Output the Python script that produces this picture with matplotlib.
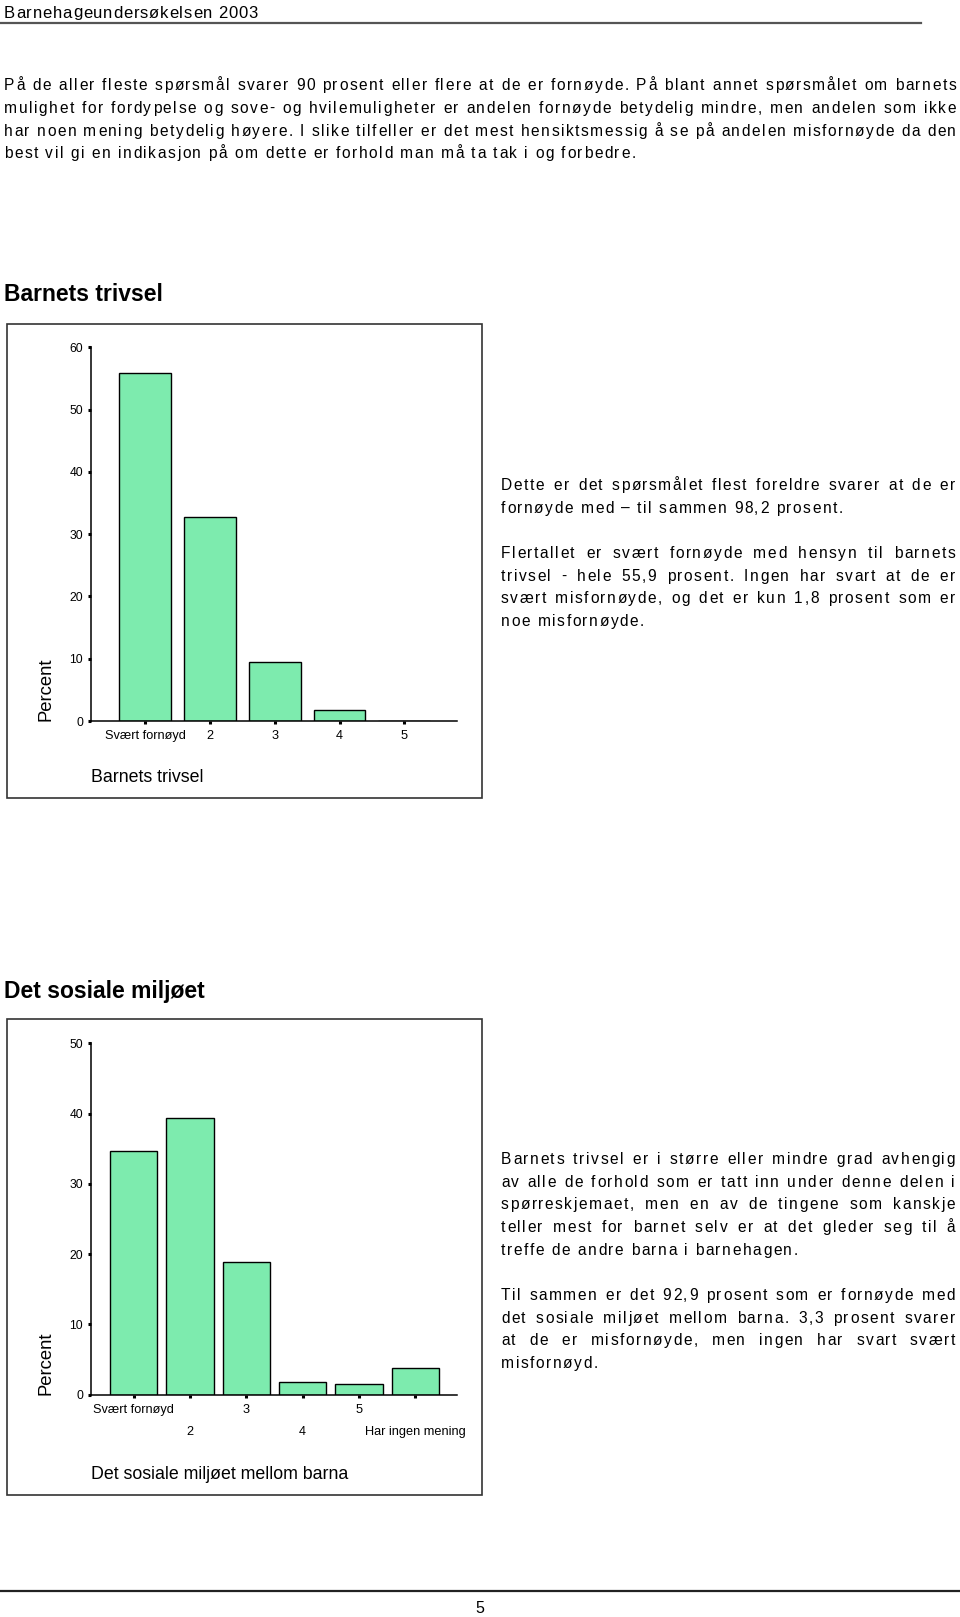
import matplotlib
matplotlib.use('Agg')
import matplotlib.pyplot as plt
from matplotlib.patches import Rectangle

plt.rcParams['font.family'] = ['Liberation Sans', 'DejaVu Sans']

W, H = 960, 1617

# data
trivsel_labels = ["Svært fornøyd", "2", "3", "4", "5"]
trivsel_pct = [55.9, 32.8, 9.5, 1.8, 0.0]
trivsel_yticks = [0, 10, 20, 30, 40, 50, 60]

sosial_labels = ["Svært fornøyd", "2", "3", "4", "5", "Har ingen mening"]
sosial_pct = [34.6, 39.4, 18.9, 1.8, 1.5, 3.8]
sosial_yticks = [0, 10, 20, 30, 40, 50]

header = "Barnehageundersøkelsen 2003"
intro = [
    "På de aller fleste spørsmål svarer 90 prosent eller flere at de er fornøyde. På blant annet spørsmålet om barnets",
    "mulighet for fordypelse og sove- og hvilemuligheter er andelen fornøyde betydelig mindre, men andelen som ikke",
    "har noen mening betydelig høyere. I slike tilfeller er det mest hensiktsmessig å se på andelen misfornøyde da den",
    "best vil gi en indikasjon på om dette er forhold man må ta tak i og forbedre.",
]
side1 = [
    ["Dette er det spørsmålet flest foreldre svarer at de er",
     "fornøyde med – til sammen 98,2 prosent."],
    ["Flertallet er svært fornøyde med hensyn til barnets",
     "trivsel - hele 55,9 prosent. Ingen har svart at de er",
     "svært misfornøyde, og det er kun 1,8 prosent som er",
     "noe misfornøyde."],
]
side2 = [
    ["Barnets trivsel er i større eller mindre grad avhengig",
     "av alle de forhold som er tatt inn under denne delen i",
     "spørreskjemaet, men en av de tingene som kanskje",
     "teller mest for barnet selv er at det gleder seg til å",
     "treffe de andre barna i barnehagen."],
    ["Til sammen er det 92,9 prosent som er fornøyde med",
     "det sosiale miljøet mellom barna. 3,3 prosent svarer",
     "at de er misfornøyde, men ingen har svart svært",
     "misfornøyd."],
]

BAR = '#7DEBAE'
TXT = 11.2     # body font size
TRACK = 1.55   # extra px between letters in the body text

fig = plt.figure(figsize=(W / 100, H / 100), dpi=100)
page = fig.add_axes([0, 0, 1, 1])
page.set_xlim(0, W)
page.set_ylim(H, 0)
page.axis('off')
renderer = fig.canvas.get_renderer()

_cw = {}


def _w(s, size):
    t = page.text(0, 0, s, fontsize=size)
    w = t.get_window_extent(renderer).width
    t.remove()
    return w


def char_w(c, size):
    # advance width of one glyph, measured between two flanking letters
    key = (c, size)
    if key not in _cw:
        _cw[key] = _w('H' + c + 'H', size) - _w('HH', size)
    return _cw[key]


def word_w(s, size, track):
    return sum(char_w(c, size) for c in s) + track * (len(s) - 1)


def tracked(x, y, s, size, track):
    for c in s:
        if c != ' ':
            page.text(x, y, c, fontsize=size, va='baseline', ha='left')
        x += char_w(c, size) + track
    return x


def justify(lines, x0, x1, y0, step, size=TXT, track=TRACK):
    # justified block, last line of each paragraph left as is
    y = y0
    for i, line in enumerate(lines):
        if i == len(lines) - 1:
            tracked(x0, y, line, size, track)
        else:
            words = line.split(' ')
            wd = [word_w(w, size, track) for w in words]
            gap = (x1 - x0 - sum(wd)) / (len(words) - 1)
            x = x0
            for w, ww in zip(words, wd):
                tracked(x, y, w, size, track)
                x += ww + gap
        y += step
    return y


# header / footer
tracked(4, 17.5, header, 12, 0.8)
page.plot([0, 921], [23, 23], color='#555555', lw=1.6)
page.plot([0, 960], [1591, 1591], color='#222222', lw=1.6)
page.text(480, 1613, "5", fontsize=11.5, ha='center', va='baseline')

justify(intro, 4, 956, 90.3, 22.65)

y = 490
for para in side1:
    y = justify(para, 501, 955, y, 22.65) + 22.65
y = 1164
for para in side2:
    y = justify(para, 501, 955, y, 22.65) + 22.65

page.text(4, 301, "Barnets trivsel", fontsize=16.5, fontweight='bold', va='baseline')
page.text(4, 998, "Det sosiale miljøet", fontsize=16.5, fontweight='bold', va='baseline')

for top, bot in [(324, 798), (1019, 1495)]:
    page.add_patch(Rectangle((6.7, top), 475, bot - top, fill=False,
                             edgecolor='#333333', lw=1.2))


def chart(top, bot, labels, vals, yticks, xlim, width, xlabel, label_top, stagger):
    left, right = 90.7, 457.3
    ax = fig.add_axes([left / W, (H - bot) / H, (right - left) / W, (bot - top) / H])
    ax.set_facecolor('none')
    x = list(range(len(vals)))
    ax.bar(x, vals, width=width, color=BAR, edgecolor='black', linewidth=1.0)
    ax.set_ylim(yticks[0], yticks[-1])
    ax.set_xlim(*xlim)
    for s in ['top', 'right']:
        ax.spines[s].set_visible(False)
    for s in ['left', 'bottom']:
        ax.spines[s].set_linewidth(1.1)
    ax.set_yticks(yticks)
    ax.set_yticklabels([str(v) for v in yticks])
    ax.tick_params(axis='y', length=2.2, width=2.2, pad=3.2, labelsize=8.7)
    if stagger:
        ax.set_xticks(x[0::2])
        ax.set_xticklabels(labels[0::2])
        ax.set_xticks(x[1::2], minor=True)
        ax.set_xticklabels(labels[1::2], minor=True)
        ax.tick_params(axis='x', which='major', length=2.2, width=2.2, pad=4.3, labelsize=9.2)
        ax.tick_params(axis='x', which='minor', length=2.2, width=2.2, pad=20.6, labelsize=9.2)
    else:
        ax.set_xticks(x)
        ax.set_xticklabels(labels)
        ax.tick_params(axis='x', length=2.2, width=2.2, pad=4.3, labelsize=9.2)
    ax.set_xlabel(xlabel, fontsize=12.8, loc='left')
    ax.xaxis.set_label_coords(0, -(label_top - bot) / (bot - top))
    page.text(45.7, bot, "Percent", fontsize=13.3, rotation=90,
              rotation_mode='anchor', ha='left', va='center')
    return ax


ax1 = chart(347.3, 721, trivsel_labels, trivsel_pct, trivsel_yticks,
            (-0.844, 4.82), 0.8, "Barnets trivsel", 769, False)
ax2 = chart(1043.3, 1394.5, sosial_labels, sosial_pct, sosial_yticks,
            (-0.76, 5.745), 0.84, "Det sosiale miljøet mellom barna", 1466, True)

fig.savefig('out.png', dpi=100)
